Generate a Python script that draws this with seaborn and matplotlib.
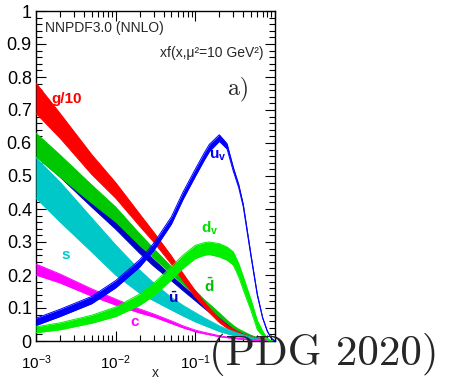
import numpy as np
import pandas as pd
import matplotlib
matplotlib.use("Agg")
import matplotlib.pyplot as plt
import matplotlib.ticker as mticker
import seaborn as sns

# x grid shared by all bands
x_vals = [0.001, 0.002, 0.005, 0.01, 0.02, 0.03, 0.05, 0.07, 0.1, 0.13, 0.15,
          0.2, 0.25, 0.3, 0.35, 0.4, 0.5, 0.6, 0.7, 0.8, 0.9, 1.0]

# g/10
g_up = [.782, .69, .565, .48, .385, .33, .258, .205, .152, .118, .10,
        .068, .048, .036, .027, .021, .013, .008, .005, .002, .0005, 0]
g_lo = [.69, .615, .505, .433, .348, .30, .233, .183, .133, .102, .086,
        .056, .039, .028, .021, .016, .009, .005, .003, .001, .0002, 0]
# dbar
dbar_up = [.630, .564, .473, .406, .325, .28, .225, .19, .153, .125, .112,
           .085, .063, .047, .036, .029, .017, .010, .006, .002, .0005, 0]
dbar_lo = [.558, .497, .418, .361, .290, .252, .204, .172, .138, .112, .099,
           .073, .054, .039, .030, .023, .013, .007, .003, .001, .0002, 0]
# ubar
ubar_up = [.609, .539, .442, .373, .288, .247, .198, .167, .134, .109, .096,
           .072, .054, .041, .032, .026, .016, .009, .005, .002, .0005, 0]
ubar_lo = [.561, .497, .406, .339, .266, .227, .183, .153, .122, .099, .087,
           .063, .047, .035, .027, .020, .012, .006, .003, .001, .0002, 0]
# s
s_up = [.555, .482, .373, .291, .215, .176, .132, .108, .086, .07, .062,
        .046, .036, .029, .023, .019, .012, .007, .004, .002, .0005, 0]
s_lo = [.433, .361, .270, .200, .145, .122, .094, .076, .058, .047, .041,
        .029, .022, .017, .013, .011, .007, .004, .002, .001, .0002, 0]
# c
c_up = [.233, .203, .158, .127, .097, .082, .061, .046, .033, .026, .023,
        .016, .012, .010, .008, .007, .004, .002, .001, .0005, 0, 0]
c_lo = [.200, .176, .136, .109, .085, .073, .053, .040, .028, .022, .019,
        .013, .010, .008, .006, .005, .003, .0015, .0007, .0003, 0, 0]
# u valence
uv_up = [.069, .096, .135, .183, .246, .296, .376, .451, .521, .571, .596,
         .625, .598, .526, .475, .414, .261, .142, .071, .031, .0085, 0]
uv_lo = [.047, .074, .113, .161, .224, .274, .354, .429, .499, .549, .574,
         .605, .582, .514, .465, .406, .255, .138, .069, .029, .0075, 0]
# d valence
dv_up = [.043, .055, .078, .103, .142, .175, .225, .26, .29, .298, .30,
         .295, .285, .27, .235, .195, .125, .062, .03, .008, .001, 0]
dv_lo = [.025, .034, .054, .074, .108, .137, .185, .22, .25, .260, .262,
         .255, .245, .23, .195, .155, .092, .034, .015, .003, .0003, 0]

bands = pd.DataFrame({"x": x_vals,
                      "g_up": g_up, "g_lo": g_lo,
                      "dbar_up": dbar_up, "dbar_lo": dbar_lo,
                      "ubar_up": ubar_up, "ubar_lo": ubar_lo,
                      "s_up": s_up, "s_lo": s_lo,
                      "c_up": c_up, "c_lo": c_lo,
                      "uv_up": uv_up, "uv_lo": uv_lo,
                      "dv_up": dv_up, "dv_lo": dv_lo})

# drawing order, bottom to top
order = [("ubar", "#0000c8"), ("dbar", "#00c800"), ("g", "#ff0000"),
         ("s", "#00c8c8"), ("c", "#ff00ff"), ("dv", "#00f000"), ("uv", "#0000ff")]

sns.set_style("ticks")
plt.rcParams["font.family"] = ["Liberation Sans", "DejaVu Sans"]
plt.rcParams["mathtext.fontset"] = "custom"
plt.rcParams["mathtext.rm"] = "Liberation Sans"
plt.rcParams["mathtext.bf"] = "Liberation Sans:bold"
plt.rcParams["mathtext.it"] = "Liberation Sans:italic"

fig = plt.figure(figsize=(4.55, 3.81), dpi=100)
ax = fig.add_axes([36 / 455, 1 - 341 / 381, 239 / 455, 330 / 381])

for i, (name, col) in enumerate(order):
    ax.fill_between(bands["x"], bands[name + "_lo"], bands[name + "_up"],
                    color=col, lw=0, zorder=2 + i)
    for edge in ("_lo", "_up"):
        sns.lineplot(data=bands, x="x", y=name + edge, ax=ax, color=col,
                     lw=0.7, zorder=2 + i)

ax.set_xscale("log")
ax.set_xlim(1e-3, 1)
ax.set_ylim(0, 1)
ax.yaxis.set_major_locator(mticker.MultipleLocator(0.1))
ax.yaxis.set_minor_locator(mticker.MultipleLocator(0.02))
ax.yaxis.set_major_formatter(mticker.FuncFormatter(lambda v, p: "%g" % round(v, 2)))
ax.set_xticks([1e-3, 1e-2, 1e-1, 1])
ax.set_xticklabels([r"$10^{-3}$", r"$10^{-2}$", r"$10^{-1}$", ""])
ax.xaxis.set_minor_locator(mticker.LogLocator(base=10, subs=np.arange(2, 10)))
ax.xaxis.set_minor_formatter(mticker.NullFormatter())
ax.tick_params(which="both", direction="in", top=True, right=True,
               colors="black", width=0.8)
ax.tick_params(which="major", length=7)
ax.tick_params(which="minor", length=4)
ax.tick_params(axis="y", which="major", labelsize=13, pad=3)
ax.tick_params(axis="x", which="major", labelsize=11, pad=9)
for sp in ax.spines.values():
    sp.set_linewidth(1.0)
    sp.set_color("black")
ax.set_ylabel("")
ax.set_xlabel("x", fontsize=10, va="center")
ax.xaxis.set_label_coords(0.5, -0.097)

ax.text(0.038, 0.948, "NNPDF3.0 (NNLO)", transform=ax.transAxes, fontsize=10,
        va="center", ha="left")
ax.text(0.95, 0.873, "xf(x,\u03bc\u00b2=10 GeV\u00b2)", transform=ax.transAxes,
        fontsize=10, va="center", ha="right")
ax.text(0.847, 0.765, "a)", transform=ax.transAxes, family="cmr10",
        fontsize=17, va="center", ha="center")

labels = [("g/10", 2.45e-3, 0.733, "#ff0000"),
          (r"$\mathbf{u}_\mathbf{v}$", 0.192, 0.56, "#0000ff"),
          (r"$\mathbf{d}_\mathbf{v}$", 0.152, 0.342, "#00e000"),
          (r"$\mathbf{\bar{d}}$", 0.148, 0.167, "#00c000"),
          (r"$\mathbf{\bar{u}}$", 0.0525, 0.130, "#0000c0"),
          ("s", 2.38e-3, 0.26, "#00c8c8"),
          ("c", 0.0175, 0.058, "#ff00ff")]
for txt, lx, ly, col in labels:
    ax.text(lx, ly, txt, color=col, fontsize=11, fontweight="bold",
            ha="center", va="center", zorder=20)

fig.text(209 / 455, 1 - 365 / 381, "(PDG 2020)", family="cmr10", fontsize=31,
         ha="left", va="baseline")

fig.savefig("out.png", dpi=100)
